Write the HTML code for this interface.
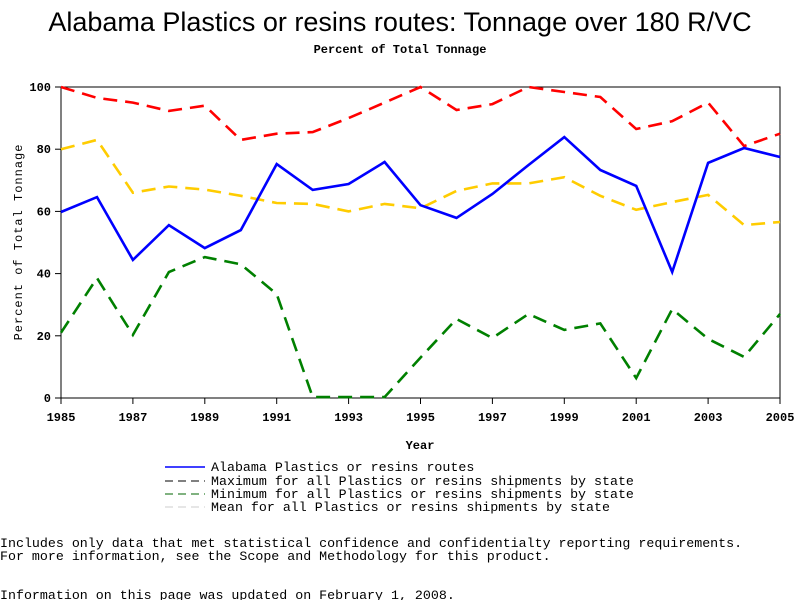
<!DOCTYPE html>
<html><head><meta charset="utf-8"><style>
html,body{margin:0;padding:0;background:#fff;}
svg{display:block;}
.m{font-family:"Liberation Mono",monospace;font-size:12px;fill:#000;}
.f{font-family:"Liberation Mono",monospace;font-size:13.3px;fill:#000;}
.lg{font-family:"Liberation Mono",monospace;font-size:13.3px;fill:#000;}
.t{font-family:"Liberation Mono",monospace;font-size:12px;font-weight:bold;fill:#000;}
</style></head><body>
<svg id="chart" width="800" height="600" viewBox="0 0 800 600">
<text x="400" y="31" text-anchor="middle" font-family="Liberation Sans, sans-serif" font-size="27">Alabama Plastics or resins routes: Tonnage over 180 R/VC</text>
<text x="400" y="53" text-anchor="middle" class="t" font-size="11">Percent of Total Tonnage</text>
<rect x="61" y="87" width="719" height="311" fill="none" stroke="#000" stroke-width="1"/>
<g id="axes"></g>
<g id="series"></g>
<text x="420" y="449" text-anchor="middle" class="t">Year</text>
<text transform="translate(22,242) rotate(-90)" text-anchor="middle" class="m" letter-spacing="1">Percent of Total Tonnage</text>
<g>
<line x1="165" y1="467" x2="205" y2="467" stroke="#0000ff" stroke-width="1.5"/>
<text x="211" y="471" class="lg">Alabama Plastics or resins routes</text>
<line x1="165" y1="481" x2="205" y2="481" stroke="#000" stroke-dasharray="8,5"/>
<text x="211" y="485" class="lg">Maximum for all Plastics or resins shipments by state</text>
<line x1="165" y1="494" x2="205" y2="494" stroke="#006400" stroke-dasharray="8,5"/>
<text x="211" y="498" class="lg">Minimum for all Plastics or resins shipments by state</text>
<line x1="165" y1="507" x2="205" y2="507" stroke="#ccc" stroke-dasharray="8,5"/>
<text x="211" y="511" class="lg">Mean for all Plastics or resins shipments by state</text>
</g>
<text x="0" y="547" class="f">Includes only data that met statistical confidence and confidentialty reporting requirements.</text>
<text x="0" y="560" class="f">For more information, see the Scope and Methodology for this product.</text>
<text x="0" y="599" class="f">Information on this page was updated on February 1, 2008.</text>
</svg>
<script>
const years=[1985,1986,1987,1988,1989,1990,1991,1992,1993,1994,1995,1996,1997,1998,1999,2000,2001,2002,2003,2004,2005];
const alabama=[59.8,64.6,44.4,55.6,48.2,54,75.2,66.9,68.8,75.9,62,57.9,65.6,74.9,83.9,73.3,68.2,40.5,75.6,80.4,77.5];
const maxVals=[100,96.5,95,92.3,94,83,85,85.5,90,95,100,92.6,94.5,100,98.4,96.8,86.5,89,95,81,85];
const minVals=[21,38.6,20.3,40.5,45.3,43,33.4,0.3,0.3,0.3,13,25.4,19.3,27,21.9,24,6.4,28.6,19,13.2,27];
const meanVals=[80,83,66,68,67,65,62.7,62.4,60,62.4,61,66.6,69,69,71,65,60.5,63,65.3,55.6,56.6];
const xTicks=[1985,1987,1989,1991,1993,1995,1997,1999,2001,2003,2005];
const yTicks=[0,20,40,60,80,100];
const NS="http://www.w3.org/2000/svg";
const x=v=>61+(v-1985)*(719/20);
const y=v=>398-v*3.11;
const axes=document.getElementById('axes'),series=document.getElementById('series');
function mk(tag,attrs,parent,txt){const e=document.createElementNS(NS,tag);for(const k in attrs)e.setAttribute(k,attrs[k]);if(txt!==undefined)e.textContent=txt;parent.appendChild(e);return e;}
xTicks.forEach(t=>{
 const l=mk('line',{x1:x(t),x2:x(t),y1:398,y2:404,stroke:'#000'},axes);
 
 
 const tx=mk('text',{x:x(t),y:421,'text-anchor':'middle','class':'t'},axes,t);
 
 
});
yTicks.forEach(t=>{
 const l=mk('line',{x1:55,x2:61,y1:y(t),y2:y(t),stroke:'#000'},axes);
 
 
 const tx=mk('text',{x:51,y:y(t)+4,'text-anchor':'end','class':'t'},axes,t);
 
 
});
function line(vals,color,dash,w,name){
 const d=vals.map((v,i)=>(i?'L':'M')+x(years[i]).toFixed(1)+','+y(v).toFixed(1)).join(' ');
 const p=mk('path',{d:d,fill:'none',stroke:color,'stroke-width':w},series);
 if(dash)p.setAttribute('stroke-dasharray',dash);
 
 
}
line(maxVals,'#ff0000','14,8',2.6,'max-line');
line(meanVals,'#ffcc00','14,8',2.6,'mean-line');
line(minVals,'#008000','14,8',2.6,'min-line');
line(alabama,'#0000ff',null,2.6,'alabama-line');
</script>
</body></html>
